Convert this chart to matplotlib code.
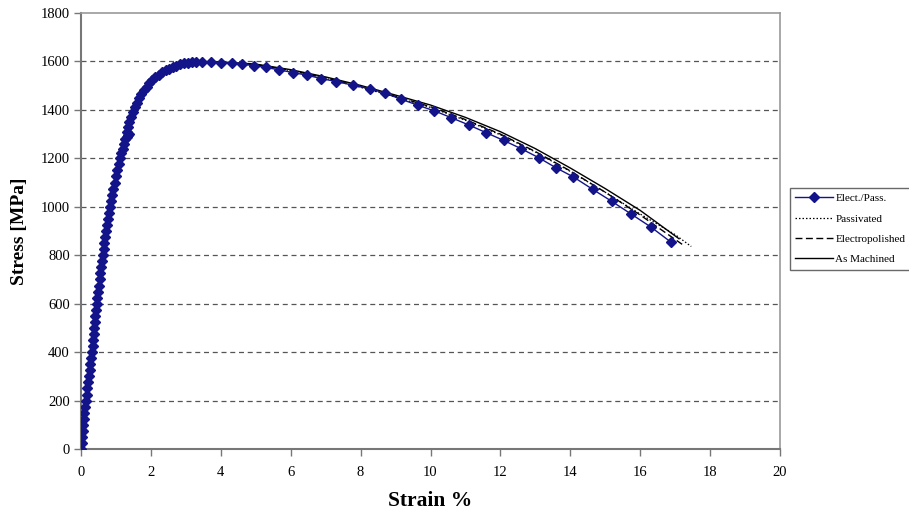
import matplotlib
matplotlib.use("Agg")
import matplotlib.pyplot as plt

plt.rcParams["font.family"] = ["Liberation Serif", "DejaVu Serif"]

# Elect./Pass. (diamond markers)
ep_strain = [
    0.00, 0.02, 0.035, 0.05, 0.07, 0.085, 0.10, 0.12, 0.14, 0.16, 0.18, 0.20,
    0.225, 0.245, 0.265, 0.29, 0.31, 0.33, 0.345, 0.365, 0.38, 0.40, 0.415, 0.43,
    0.45, 0.47, 0.49, 0.51, 0.53, 0.55, 0.57, 0.595, 0.62, 0.645, 0.67, 0.695,
    0.72, 0.745, 0.77, 0.80, 0.83, 0.86, 0.89, 0.925, 0.96, 1.00, 1.04, 1.075,
    1.11, 1.15, 1.19, 1.23, 1.27, 1.31, 1.35, 1.37, 1.33, 1.34, 1.38, 1.43,
    1.48, 1.54, 1.60, 1.67, 1.73, 1.80, 1.88, 1.96, 2.04, 2.13, 2.22, 2.32,
    2.42, 2.52, 2.62, 2.72, 2.83, 2.94, 3.05, 3.17, 3.30,
    3.45, 3.73, 4.02, 4.31, 4.62, 4.94, 5.30, 5.67, 6.07, 6.47, 6.88, 7.30,
    7.78, 8.26, 8.69, 9.16, 9.64, 10.11, 10.59, 11.09, 11.59, 12.09, 12.59,
    13.09, 13.59, 14.09, 14.64, 15.18, 15.73, 16.31, 16.88,
]
ep_stress = [
    0, 25, 50, 75, 100, 125, 150, 175, 200, 225, 250, 275,
    300, 325, 350, 375, 400, 425, 450, 475, 500, 525, 550, 575,
    600, 625, 650, 675, 700, 725, 750, 775, 800, 825, 850, 875,
    900, 925, 950, 975, 1000, 1025, 1050, 1075, 1100, 1125, 1150, 1175,
    1200, 1220, 1240, 1260, 1280, 1290, 1295, 1300, 1310, 1330, 1350, 1370,
    1390, 1410, 1430, 1450, 1465, 1480, 1495, 1510, 1522, 1535, 1545, 1555,
    1563, 1570, 1577, 1583, 1588, 1592, 1595, 1597, 1598,
    1597, 1597, 1595, 1593, 1589, 1582, 1575, 1565, 1554, 1543, 1529, 1517,
    1502, 1488, 1469, 1444, 1419, 1396, 1368, 1338, 1306, 1274, 1240,
    1203, 1161, 1123, 1072, 1023, 971, 916, 854,
]

# Passivated (dotted)
pa_strain = [0.0, 0.31, 0.62, 0.83, 1.11, 1.54, 1.91, 2.35, 2.75, 3.4, 4.0, 5.0,
             6.0, 7.0, 8.0, 9.0, 10.0, 11.0, 12.0, 13.0, 14.0, 15.0, 16.0, 17.0, 17.46]
pa_stress = [0, 420, 800, 1000, 1200, 1400, 1500, 1555, 1585, 1598, 1597, 1586,
             1562, 1530, 1493, 1453, 1410, 1357, 1297, 1226, 1146, 1060, 970, 885, 836]

# Electropolished (dashed)
el_strain = [0.0, 0.31, 0.62, 0.83, 1.11, 1.54, 1.91, 2.35, 2.75, 3.4, 4.0, 5.0,
             6.0, 7.0, 8.0, 9.0, 10.0, 11.0, 12.0, 13.0, 14.0, 15.0, 16.0, 17.2]
el_stress = [0, 420, 800, 1000, 1200, 1400, 1500, 1555, 1585, 1598, 1597, 1587,
             1563, 1532, 1496, 1456, 1413, 1360, 1300, 1228, 1148, 1060, 966, 845]

# As Machined (solid)
am_strain = [0.0, 0.31, 0.62, 0.83, 1.11, 1.54, 1.91, 2.35, 2.75, 3.4, 4.0, 5.0,
             6.0, 7.0, 8.0, 9.0, 10.0, 11.0, 12.0, 13.0, 14.0, 15.0, 16.0, 17.11]
am_stress = [0, 420, 800, 1000, 1200, 1400, 1500, 1555, 1585, 1598, 1598, 1589,
             1566, 1536, 1501, 1461, 1420, 1369, 1310, 1240, 1160, 1075, 985, 868]

x_ticks = list(range(0, 21, 2))
y_ticks = list(range(0, 1801, 200))

fig = plt.figure(figsize=(9.09, 5.11), dpi=100)
ax = fig.add_axes([0.0891, 0.1213, 0.7690, 0.8533])

navy = "#14148a"
ax.plot(am_strain, am_stress, color="black", linewidth=1.0, label="As Machined", zorder=2)
ax.plot(el_strain, el_stress, color="black", linewidth=1.0, linestyle=(0, (5, 2.5)),
        label="Electropolished", zorder=2)
ax.plot(pa_strain, pa_stress, color="black", linewidth=0.9, linestyle=(0, (1.2, 1.6)),
        label="Passivated", zorder=2)
ax.plot(ep_strain, ep_stress, color=navy, linewidth=1.0, marker="D", markersize=4.6,
        markeredgecolor=navy, markerfacecolor=navy, label="Elect./Pass.", zorder=3)

ax.set_xlim(0, 20)
ax.set_ylim(0, 1800)
ax.set_xticks(x_ticks)
ax.set_yticks(y_ticks)
ax.tick_params(direction="out", length=5, width=1, color="#777777", labelsize=10.5, pad=3)
ax.tick_params(axis="x", pad=7)

for v in y_ticks[1:-1]:
    ax.axhline(v, color="#555555", linewidth=0.9, linestyle=(0, (4, 3)), zorder=1)

for side in ("left", "bottom"):
    ax.spines[side].set_color("#777777")
    ax.spines[side].set_linewidth(1.5)
for side in ("top", "right"):
    ax.spines[side].set_color("#999999")
    ax.spines[side].set_linewidth(1.2)

ax.set_xlabel("Strain %", fontsize=15.5, fontweight="bold", labelpad=9)
ax.set_ylabel("Stress [MPa]", fontsize=14, fontweight="bold", labelpad=9)

handles, labels = ax.get_legend_handles_labels()
order = [3, 2, 1, 0]
leg = fig.legend([handles[i] for i in order], [labels[i] for i in order],
                 loc="upper left", bbox_to_anchor=(0.869, 0.632), fontsize=8,
                 frameon=True, fancybox=False, handlelength=3.4, handletextpad=0.2,
                 labelspacing=0.95, borderpad=0.5, borderaxespad=0)
leg.get_frame().set_edgecolor("#444444")
leg.get_frame().set_linewidth(1.0)

fig.savefig("out.png", dpi=100)
